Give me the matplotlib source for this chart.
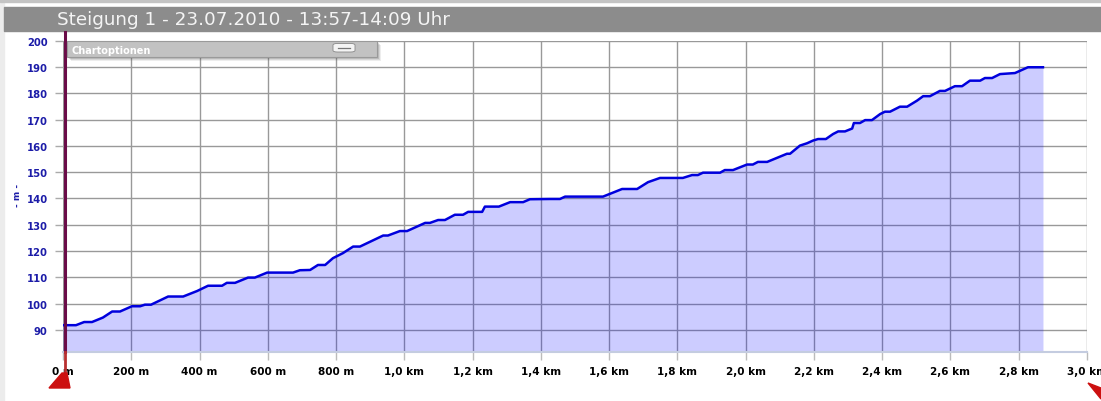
import matplotlib
matplotlib.use('Agg')
import matplotlib.pyplot as plt
from matplotlib.patches import Rectangle, Polygon, FancyBboxPatch
from matplotlib.lines import Line2D

# distance along the climb (m) and altitude (m)
distance = [0, 38, 62, 85, 117, 144, 167, 202, 226, 240, 258, 308, 352, 393, 425,
            466, 480, 504, 542, 562, 598, 674, 694, 724, 747, 768, 791, 820, 850,
            870, 938, 952, 987, 1008, 1061, 1075, 1099, 1119, 1148, 1172, 1187,
            1228, 1236, 1277, 1310, 1348, 1368, 1427, 1456, 1471, 1582, 1638,
            1682, 1714, 1749, 1816, 1843, 1860, 1875, 1925, 1939, 1963, 2004,
            2021, 2036, 2063, 2121, 2130, 2159, 2180, 2197, 2212, 2235, 2256,
            2271, 2291, 2312, 2317, 2335, 2350, 2370, 2394, 2408, 2423, 2452,
            2473, 2502, 2520, 2540, 2569, 2584, 2613, 2634, 2657, 2687, 2701,
            2722, 2745, 2789, 2827, 2871]
altitude = [91.8, 91.8, 93.0, 93.0, 94.7, 97.0, 97.0, 99.0, 99.0, 99.6, 99.6,
            102.7, 102.7, 104.8, 106.8, 106.8, 107.9, 107.9, 109.9, 109.9, 111.8,
            111.8, 112.7, 112.8, 114.7, 114.7, 117.3, 119.2, 121.7, 121.7, 125.9,
            125.9, 127.6, 127.6, 130.7, 130.7, 131.8, 131.8, 133.8, 133.8, 134.9,
            134.9, 136.9, 136.9, 138.6, 138.6, 139.7, 139.8, 139.8, 140.7, 140.7,
            143.6, 143.6, 146.2, 147.8, 147.8, 148.9, 148.9, 149.8, 149.8, 150.8,
            150.8, 152.9, 152.9, 153.9, 153.9, 157.0, 157.0, 160.1, 161.0, 162.0,
            162.6, 162.6, 164.5, 165.5, 165.5, 166.6, 168.7, 168.7, 169.8, 169.8,
            172.1, 173.0, 173.0, 174.9, 174.9, 177.2, 178.9, 178.9, 180.9, 180.9,
            182.7, 182.7, 184.8, 184.8, 185.8, 185.8, 187.3, 187.7, 189.9, 189.9]

x_ticks = [0, 200, 400, 600, 800, 1000, 1200, 1400, 1600, 1800, 2000, 2200,
           2400, 2600, 2800, 3000]
x_labels = ['0 m', '200 m', '400 m', '600 m', '800 m', '1,0 km', '1,2 km',
            '1,4 km', '1,6 km', '1,8 km', '2,0 km', '2,2 km', '2,4 km',
            '2,6 km', '2,8 km', '3,0 km']
y_ticks = [90, 100, 110, 120, 130, 140, 150, 160, 170, 180, 190, 200]
title = 'Steigung 1 - 23.07.2010 - 13:57-14:09 Uhr'

W, H = 1101, 402


def fp(x, y):
    # pixel position (from top-left) -> figure fraction
    return x / W, 1 - y / H


fig = plt.figure(figsize=(W / 100, H / 100), dpi=100)
fig.patch.set_facecolor('white')

# page chrome: left strip, top line, title bar
fig.add_artist(Rectangle(fp(0, H), 4 / W, 1, transform=fig.transFigure,
                         color='#ececec', zorder=0))
fig.add_artist(Rectangle(fp(0, 3), 1, 3 / H, transform=fig.transFigure,
                         color='#c4c4c4', zorder=0))
fig.add_artist(Rectangle(fp(4, 32), 1, 24 / H, transform=fig.transFigure,
                         color='#8c8c8c', zorder=0))
fig.text(57 / W, 1 - 20 / H, title, color='#f4f4f4', fontsize=13.2,
         va='center', ha='left', family='DejaVu Sans')

l, b = fp(63, 353)
r, t = fp(1087, 41.7)
ax = fig.add_axes([l, b, r - l, t - b])
ax.set_xlim(0, 3000)
ax.set_ylim(81.6, 200)

ax.grid(True, color='#999999', lw=1.0, zorder=0)
ax.set_axisbelow(True)
ax.fill_between(distance, altitude, 81.6, color='#0000ff', alpha=0.2, lw=0, zorder=1)
ax.plot(distance, altitude, color='#0000dd', lw=1.8, zorder=3, solid_joinstyle='round')

ax.set_xticks(x_ticks)
ax.set_xticklabels(x_labels, fontsize=7.5, fontweight='bold', color='black')
ax.set_yticks(y_ticks)
ax.set_yticklabels([str(v) for v in y_ticks], fontsize=7.2, fontweight='bold',
                   color='#1c1ca8')
ax.tick_params(axis='x', length=6, width=1, color='#bbbbbb', pad=4)
ax.tick_params(axis='y', length=6, width=1, color='#aaaaaa', pad=5)
for s in ['top', 'right', 'left']:
    ax.spines[s].set_visible(False)
ax.spines['bottom'].set_color('#c4cce0')
ax.spines['bottom'].set_linewidth(1.5)

fig.text(18 / W, 1 - 195 / H, '- m -', rotation=90, color='#1c1ca8',
         fontsize=6.5, fontweight='bold', ha='center', va='center')

# start marker line and triangles
fig.add_artist(Line2D([64.5 / W, 64.5 / W], [1 - 33 / H, 1 - 353 / H],
                      transform=fig.transFigure, color='#6a0c48', lw=2.2, zorder=5))
fig.add_artist(Line2D([64.5 / W, 64.5 / W], [1 - 353 / H, 1 - 378 / H],
                      transform=fig.transFigure, color='#b83030', lw=2.0, zorder=5))
fig.add_artist(Polygon([fp(49, 389), fp(62, 374), fp(67, 374), fp(70, 389)],
                       closed=True, transform=fig.transFigure, color='#cc1010', zorder=6))
fig.add_artist(Polygon([fp(1088, 384), fp(1101, 400), fp(1101, 389)],
                       closed=True, transform=fig.transFigure, color='#cc1010', zorder=6))

# "Chartoptionen" panel
for d, a in [(4, 0.10), (3, 0.15), (2, 0.2)]:
    fig.add_artist(Rectangle(fp(67 + d, 58 + d), 310 / W, 16 / H,
                             transform=fig.transFigure, color='#555555',
                             alpha=a, lw=0, zorder=6))
fig.add_artist(Rectangle(fp(67, 58), 310 / W, 16 / H, transform=fig.transFigure,
                         facecolor='#c2c2c2', edgecolor='#9a9a9a', lw=0.8, zorder=7))
fig.text(71 / W, 1 - 50.5 / H, 'Chartoptionen', color='white', fontsize=7,
         fontweight='bold', ha='left', va='center', zorder=8)
bx, by = fp(333, 53)
fig.add_artist(FancyBboxPatch((bx, by), 22 / W, 8.5 / H,
                              boxstyle='round,pad=0,rounding_size=0.004',
                              transform=fig.transFigure, facecolor='#f4f4f4',
                              edgecolor='#888888', lw=0.6, zorder=8))
fig.add_artist(Line2D([338 / W, 350 / W], [1 - 48.5 / H, 1 - 48.5 / H],
                      transform=fig.transFigure, color='#777777', lw=0.9, zorder=9))

fig.savefig('out.png', dpi=100)
